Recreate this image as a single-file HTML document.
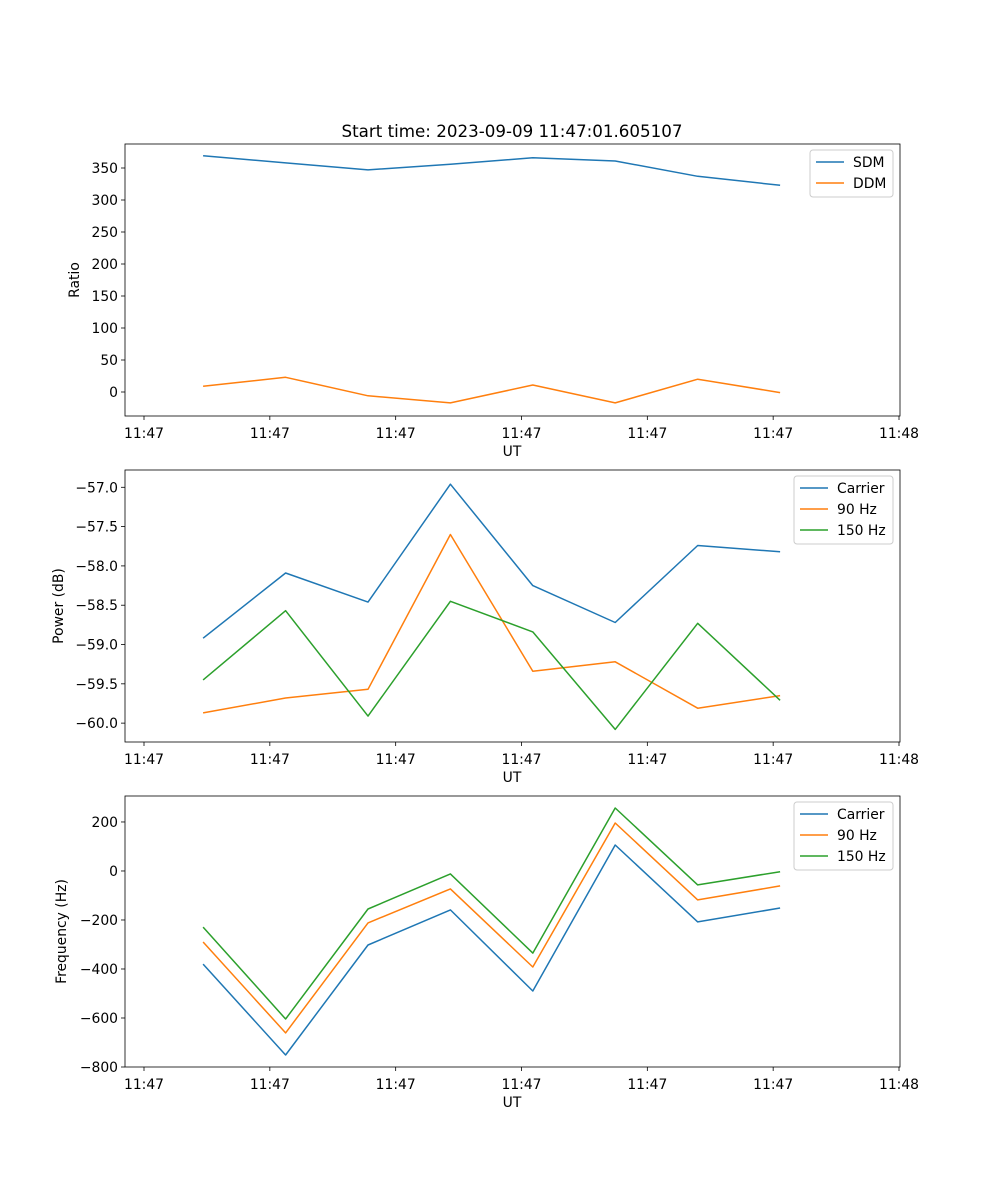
<!DOCTYPE html>
<html><head><meta charset="utf-8"><style>
body{margin:0;background:#fff;}
svg{display:block;font-family:"DejaVu Sans","Liberation Sans",sans-serif;}
</style></head><body>
<svg id="fig" width="1000" height="1200"></svg>
<script>
const xTickLabels=["11:47","11:47","11:47","11:47","11:47","11:47","11:48"];
const xTickTimes=[0,10,20,30,40,50,60];
const sampleTimes=[4.7,11.25,17.8,24.35,30.9,37.45,44.0,50.55];
const sdm=[369,358,347,356,366,361,337,323];
const ddm=[9,23,-6,-17,11,-17,20,-1];
const powCarrier=[-58.92,-58.09,-58.46,-56.96,-58.25,-58.72,-57.74,-57.82];
const pow90=[-59.87,-59.68,-59.57,-57.60,-59.34,-59.22,-59.81,-59.65];
const pow150=[-59.45,-58.57,-59.91,-58.45,-58.84,-60.08,-58.73,-59.71];
const freqCarrier=[-380,-751,-302,-159,-490,106,-208,-151];
const freq90=[-290,-661,-212,-73,-392,196,-118,-61];
const freq150=[-229,-604,-155,-12,-335,257,-57,-3];
const ratioTicks=[0,50,100,150,200,250,300,350];
const powerTicks=[-60.0,-59.5,-59.0,-58.5,-58.0,-57.5,-57.0];
const freqTicks=[-800,-600,-400,-200,0,200];

const NS="http://www.w3.org/2000/svg";
const svg=document.getElementById('fig');
function el(tag,attrs,parent){const e=document.createElementNS(NS,tag);for(const k in attrs)e.setAttribute(k,attrs[k]);(parent||svg).appendChild(e);return e;}
const L=125,R=900,FS=13.9;
const xs=t=>144+(t-0)*(899-144)/60;
function panel(name,top,bot,ymin,ymax,yticks,fmt,ylabel,series,legend){
  const g=el('g',{});
  
  
  const ys=v=>bot-(v-ymin)*(bot-top)/(ymax-ymin);
  series.forEach(s=>{
    const pts=s.vals.map((v,i)=>xs(sampleTimes[i]).toFixed(1)+','+ys(v).toFixed(1)).join(' ');
    const p=el('polyline',{points:pts,fill:'none',stroke:s.color,'stroke-width':1.5,'stroke-linejoin':'round'},g);
    
    
  });
  const fr=el('rect',{x:L,y:top,width:R-L,height:bot-top,fill:'none',stroke:'#000','stroke-width':0.8},g);
  
  
  xTickTimes.forEach((t,i)=>{
    const x=xs(t);
    el('line',{x1:x,x2:x,y1:bot,y2:bot+4,stroke:'#000','stroke-width':0.8},g);
    const tx=el('text',{x:x,y:bot+22,'text-anchor':'middle','font-size':FS},g);
    tx.textContent=xTickLabels[i];
    
    
  });
  yticks.forEach(v=>{
    const y=ys(v);
    el('line',{x1:L-4,x2:L,y1:y,y2:y,stroke:'#000','stroke-width':0.8},g);
    const tx=el('text',{x:L-7,y:y+5,'text-anchor':'end','font-size':FS},g);
    tx.textContent=fmt(v);
    
    
  });
  const xl=el('text',{x:512,y:bot+40,'text-anchor':'middle','font-size':FS},g);
  xl.textContent='UT';
  
  
  const yx=legend.ylx, yy=(top+bot)/2;
  const yl=el('text',{x:yx,y:yy,'text-anchor':'middle','font-size':FS,transform:`rotate(-90 ${yx} ${yy})`},g);
  yl.textContent=ylabel;
  
  
  const lg=el('g',{},g);
  
  
  el('rect',{x:legend.x,y:top+6,width:893-legend.x,height:series.length*21+5,rx:3,fill:'#fff','fill-opacity':0.8,stroke:'#ccc'},lg);
  series.forEach((s,i)=>{
    const y=top+18+i*21;
    el('line',{x1:legend.x+6,x2:legend.x+34,y1:y,y2:y,stroke:s.color,'stroke-width':1.5},lg);
    const t=el('text',{x:legend.x+43,y:y+5,'font-size':FS},lg);
    t.textContent=s.label;
    
    
  });
}
const title=el('text',{x:512,y:137,'text-anchor':'middle','font-size':16.7});
title.textContent='Start time: 2023-09-09 11:47:01.605107';


const B='#1f77b4',O='#ff7f0e',G='#2ca02c';
panel('ratio',144,416,-37.5,387.5,ratioTicks,v=>String(v),'Ratio',
 [{key:'sdm',label:'SDM',color:B,vals:sdm},{key:'ddm',label:'DDM',color:O,vals:ddm}],{x:810,ylx:79});
panel('power',470,742,-60.24,-56.78,powerTicks,v=>v.toFixed(1).replace('-','\u2212'),'Power (dB)',
 [{key:'carrier',label:'Carrier',color:B,vals:powCarrier},{key:'90hz',label:'90 Hz',color:O,vals:pow90},{key:'150hz',label:'150 Hz',color:G,vals:pow150}],{x:794,ylx:63});
panel('frequency',796,1067,-800,306,freqTicks,v=>String(v).replace('-','\u2212'),'Frequency (Hz)',
 [{key:'carrier',label:'Carrier',color:B,vals:freqCarrier},{key:'90hz',label:'90 Hz',color:O,vals:freq90},{key:'150hz',label:'150 Hz',color:G,vals:freq150}],{x:794,ylx:66});
</script>
</body></html>
